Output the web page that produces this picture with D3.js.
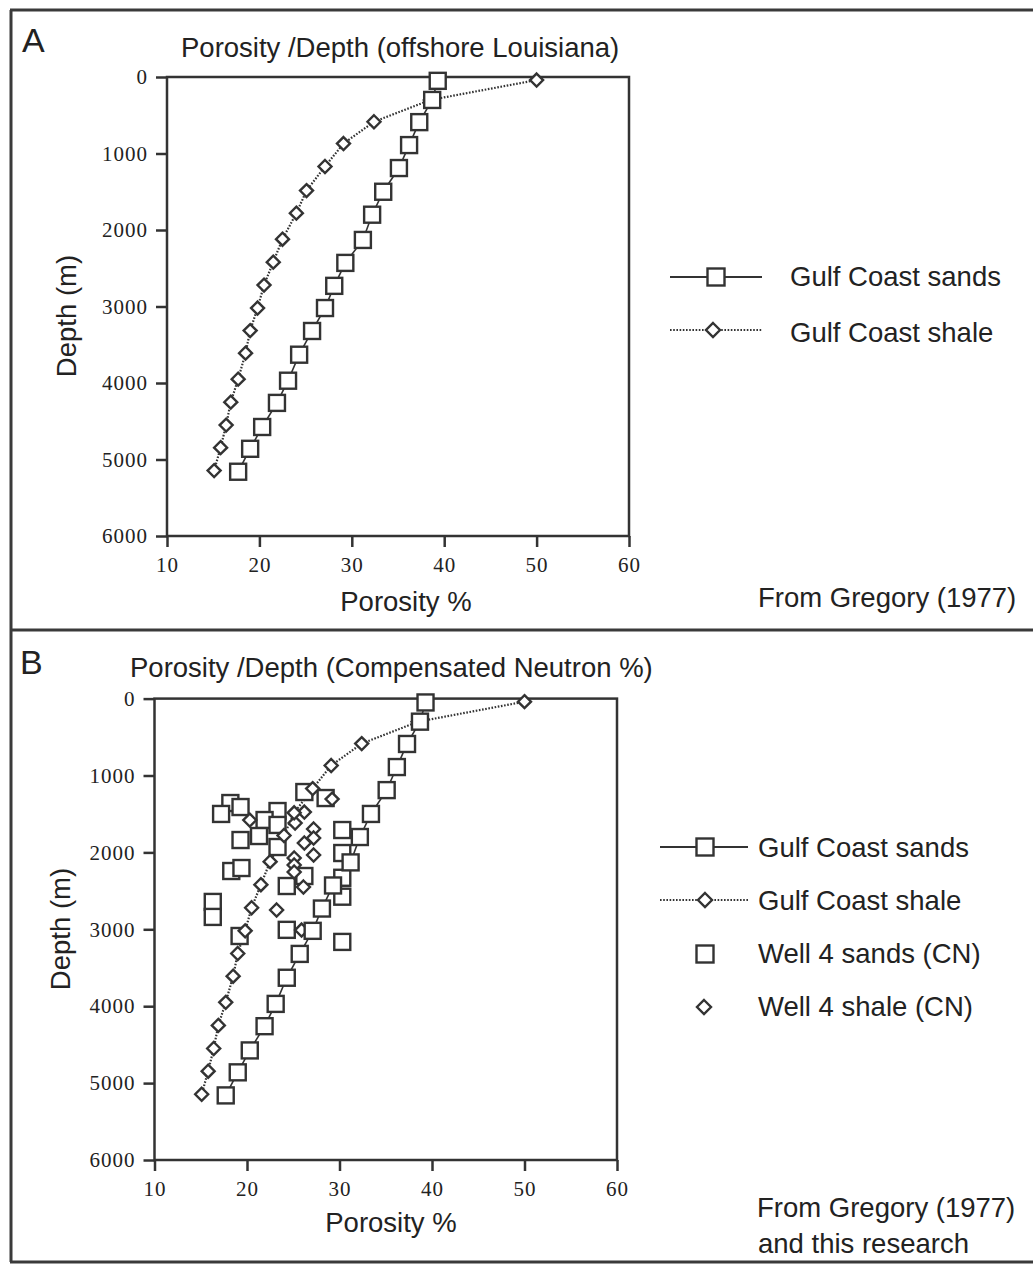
<!DOCTYPE html>
<html>
<head>
<meta charset="utf-8">
<script src="https://cdn.jsdelivr.net/npm/d3@7"></script>
<style>
  body { margin: 0; background: #fff; }
  svg { display: block; }
</style>
</head>
<body>
<div id="chart-container"></div>
<script>
const W = 1033;
const H = 1265;

// Axis ticks
const porosityTicks = [10, 20, 30, 40, 50, 60];
const depthTicks = [0, 1000, 2000, 3000, 4000, 5000, 6000];

// Gregory (1977) curves: [porosity %, depth m]
const gulfSands = [
    [39.3, 50], [38.7, 300], [37.3, 590], [36.2, 890], [35.1, 1190], [33.4, 1500],
    [32.2, 1800], [31.2, 2130], [29.3, 2430], [28.1, 2730], [27.1, 3020], [25.7, 3320],
    [24.3, 3630], [23.1, 3970], [21.9, 4260], [20.3, 4575], [19.0, 4860], [17.7, 5160]
];
const gulfShale = [
    [50.0, 40], [38.5, 300], [32.4, 585], [29.1, 870], [27.1, 1170], [25.1, 1485],
    [24.0, 1780], [22.5, 2120], [21.5, 2420], [20.5, 2720], [19.8, 3020], [19.0, 3315],
    [18.5, 3610], [17.7, 3950], [16.9, 4250], [16.4, 4550], [15.8, 4845], [15.1, 5145]
];

// Well 4 compensated neutron points
const well4Sands = [
    [26.2, 1215], [28.5, 1293], [18.2, 1358], [19.3, 1410], [17.2, 1500], [23.3, 1462],
    [21.9, 1579], [23.3, 1643], [21.3, 1787], [19.3, 1839], [23.3, 1930], [30.3, 1709],
    [30.3, 2008], [18.3, 2242], [19.4, 2203], [26.2, 2307], [24.3, 2437], [30.3, 2330],
    [30.3, 2576], [16.3, 2644], [16.3, 2839], [24.3, 3007], [19.2, 3087], [30.3, 3164]
];
const well4Shale = [
    [29.2, 1307], [20.3, 1580], [26.2, 1475], [25.2, 1618], [27.2, 1696], [27.2, 1813],
    [26.2, 1878], [27.2, 2034], [25.1, 2073], [25.1, 2164], [25.1, 2255], [26.1, 2450],
    [23.2, 2749], [25.9, 3010]
];

const ink = "#333";
const sans = "'Liberation Sans', Arial, Helvetica, sans-serif";
const serif = "'Liberation Serif', 'Times New Roman', serif";

var svg = d3.select("#chart-container")
    .append("svg")
    .attr("width", W)
    .attr("height", H);

svg.append("rect").attr("width", W).attr("height", H).attr("fill", "#fff");

// outer frame lines
var frame = svg.append("g").attr("stroke", "#3a3a3a").attr("stroke-width", 3);
frame.append("line").attr("x1", 10).attr("x2", W).attr("y1", 10).attr("y2", 10);
frame.append("line").attr("x1", 11).attr("x2", 11).attr("y1", 10).attr("y2", 1262);
frame.append("line").attr("x1", 10).attr("x2", W).attr("y1", 630).attr("y2", 630);
frame.append("line").attr("x1", 10).attr("x2", W).attr("y1", 1262).attr("y2", 1262);

function square(g, cx, cy, s) {
    g.append("rect")
        .attr("x", cx - s / 2).attr("y", cy - s / 2)
        .attr("width", s).attr("height", s)
        .attr("fill", "#fff").attr("stroke", ink).attr("stroke-width", 2.4);
}

function diamond(g, cx, cy, r) {
    g.append("path")
        .attr("d", `M${cx},${cy - r}L${cx + r},${cy}L${cx},${cy + r}L${cx - r},${cy}Z`)
        .attr("fill", "#fff").attr("stroke", ink).attr("stroke-width", 2.4);
}

function drawPanel(p) {
    var x = d3.scaleLinear().domain([10, 60]).range([p.left, p.right]);
    var y = d3.scaleLinear().domain([0, 6000]).range([p.top, p.bottom]);
    var g = svg.append("g");

    // axes
    var yAxis = g.append("g")
        .attr("transform", `translate(${p.left},0)`)
        .call(d3.axisLeft(y).tickValues(depthTicks).tickSize(11).tickPadding(8).tickFormat(d3.format("d")));
    var xAxis = g.append("g")
        .attr("transform", `translate(0,${p.bottom})`)
        .call(d3.axisBottom(x).tickValues(porosityTicks).tickSize(11).tickPadding(10));
    [xAxis, yAxis].forEach(function (a) {
        a.select(".domain").remove();
        a.selectAll(".tick line").attr("stroke", ink).attr("stroke-width", 2.5);
        a.selectAll(".tick text")
            .attr("fill", "#222")
            .style("font-family", serif)
            .style("font-size", "21px")
            .style("letter-spacing", "1px");
    });

    g.append("rect")
        .attr("x", p.left).attr("y", p.top)
        .attr("width", p.right - p.left).attr("height", p.bottom - p.top)
        .attr("fill", "none").attr("stroke", ink).attr("stroke-width", 2.5);

    var line = d3.line().x(d => x(d[0])).y(d => y(d[1]));

    g.append("path").datum(gulfSands).attr("d", line)
        .attr("fill", "none").attr("stroke", ink).attr("stroke-width", 1.6);
    g.append("path").datum(gulfShale).attr("d", line)
        .attr("fill", "none").attr("stroke", ink).attr("stroke-width", 2.2)
        .attr("stroke-dasharray", "1.6,1.6");

    if (p.well) {
        well4Sands.forEach(d => square(g, x(d[0]), y(d[1]), 16));
        well4Shale.forEach(d => diamond(g, x(d[0]), y(d[1]), 6.5));
    }
    gulfShale.forEach(d => diamond(g, x(d[0]), y(d[1]), 6.5));
    gulfSands.forEach(d => square(g, x(d[0]), y(d[1]), 16));

    // labels
    svg.append("text").attr("x", p.letterX).attr("y", p.letterY).text(p.letter)
        .style("font-family", sans).style("font-size", "34px").attr("fill", "#222");
    svg.append("text").attr("x", p.titleX).attr("y", p.titleY).text(p.title)
        .style("font-family", sans).style("font-size", "27.5px").attr("fill", "#222");
    svg.append("text").attr("x", p.xlabX).attr("y", p.xlabY).text("Porosity %")
        .attr("text-anchor", "middle")
        .style("font-family", sans).style("font-size", "27.5px").attr("fill", "#222");
    svg.append("text")
        .attr("transform", `translate(${p.ylabX},${p.ylabY}) rotate(-90)`)
        .attr("text-anchor", "middle").text("Depth (m)")
        .style("font-family", sans).style("font-size", "27.5px").attr("fill", "#222");
}

function legendText(x, y, t) {
    svg.append("text").attr("x", x).attr("y", y).text(t)
        .style("font-family", sans).style("font-size", "27.5px").attr("fill", "#222");
}

drawPanel({
    left: 167, right: 629, top: 77, bottom: 536, well: false,
    letter: "A", letterX: 22, letterY: 52,
    title: "Porosity /Depth (offshore Louisiana)", titleX: 181, titleY: 57,
    xlabX: 406, xlabY: 611, ylabX: 76, ylabY: 316
});

drawPanel({
    left: 154.5, right: 617, top: 698.6, bottom: 1160, well: true,
    letter: "B", letterX: 20, letterY: 674,
    title: "Porosity /Depth (Compensated Neutron %)", titleX: 130, titleY: 677,
    xlabX: 391, xlabY: 1232, ylabX: 70, ylabY: 929
});

// Legend A
var la = svg.append("g");
la.append("line").attr("x1", 670).attr("x2", 762).attr("y1", 277).attr("y2", 277)
    .attr("stroke", ink).attr("stroke-width", 2);
square(la, 716, 277, 17);
la.append("line").attr("x1", 670).attr("x2", 762).attr("y1", 330).attr("y2", 330)
    .attr("stroke", ink).attr("stroke-width", 2).attr("stroke-dasharray", "1.6,1.6");
diamond(la, 713, 330, 7);
legendText(790, 286, "Gulf Coast sands");
legendText(790, 342, "Gulf Coast shale");
legendText(758, 607, "From Gregory (1977)");

// Legend B
var lb = svg.append("g");
lb.append("line").attr("x1", 660).attr("x2", 748).attr("y1", 847).attr("y2", 847)
    .attr("stroke", ink).attr("stroke-width", 2);
square(lb, 705, 847, 17);
lb.append("line").attr("x1", 660).attr("x2", 748).attr("y1", 900).attr("y2", 900)
    .attr("stroke", ink).attr("stroke-width", 2).attr("stroke-dasharray", "1.6,1.6");
diamond(lb, 705, 900, 7);
square(lb, 705, 954, 17);
diamond(lb, 704, 1007, 7);
legendText(758, 857, "Gulf Coast sands");
legendText(758, 910, "Gulf Coast shale");
legendText(758, 963, "Well 4 sands (CN)");
legendText(758, 1016, "Well 4 shale (CN)");
legendText(757, 1217, "From Gregory (1977)");
legendText(758, 1253, "and this research");
</script>
</body>
</html>
